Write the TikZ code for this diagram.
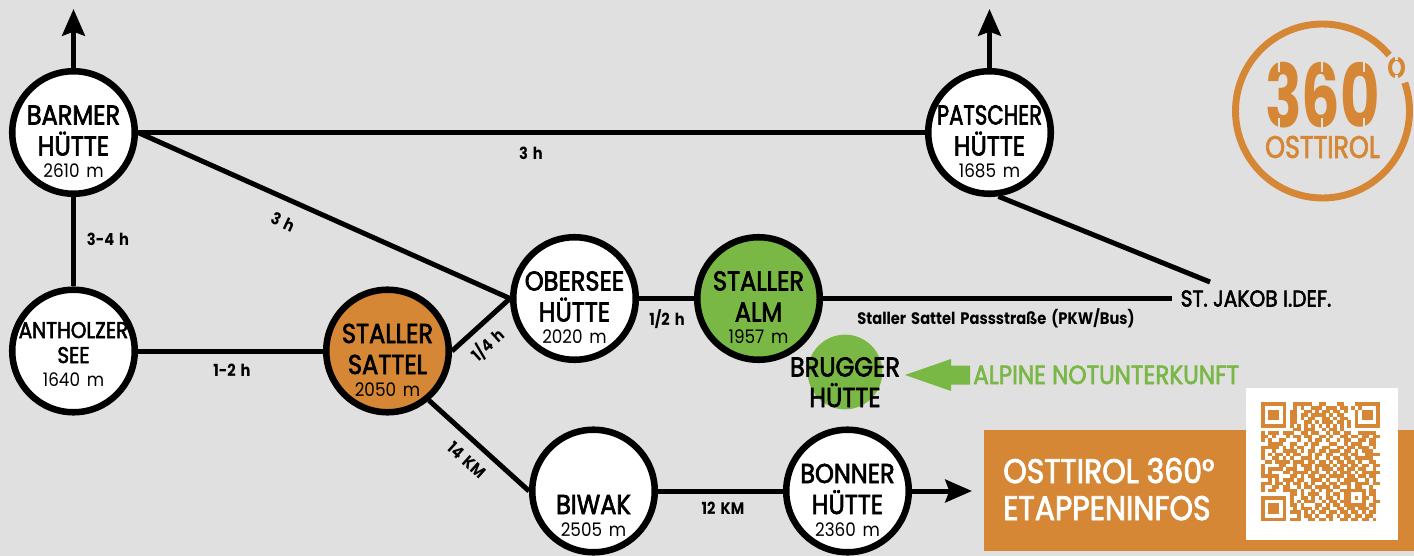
\documentclass[tikz,border=0pt]{standalone}
\usepackage{fontspec}
\usepackage{graphicx}
\usetikzlibrary{arrows.meta}
\newfontfamily\hutFont{Poppins}[FakeStretch=0.88,FakeBold=2.4]
\newfontfamily\legFont{Poppins}[FakeStretch=0.88,WordSpace=1.6]
\newfontfamily\infoFont{Poppins}[FakeStretch=0.9,WordSpace=1.5]
\definecolor{backColor}{RGB}{224,224,224}
\definecolor{logoColor}{RGB}{213,135,53}
\definecolor{almColor}{RGB}{122,184,69}
\tikzstyle{route} = [y = -.75pt, x = .75pt]
\tikzstyle{hutStyle} = [draw=black, circle, line width=4.9pt, minimum size=91.9pt, inner sep=0pt]
\tikzstyle{hutTitle} = [font=\hutFont\fontsize{20.5}{20.5}\selectfont, anchor=base, inner sep=0pt, text=black]
\tikzstyle{hutSmallTitle} = [font=\hutFont\fontsize{17}{17}\selectfont, anchor=base, inner sep=0pt]
\tikzstyle{hutHeight} = [font=\infoFont\fontsize{14}{14}\selectfont, anchor=base, inner sep=0pt]
\tikzstyle{legLine} = [draw=black, line width=3.75pt]
\tikzstyle{legArrow} = [legLine, -{Stealth[length=20pt,width=17pt,inset=3pt]}]
\tikzstyle{legText} = [font=\legFont\bfseries\fontsize{12.5}{12.5}\selectfont, inner sep=0pt]
\tikzstyle{panelText} = [font=\hutFont\fontsize{25.5}{25.5}\selectfont, text=white, anchor=base west, inner sep=0pt]
\tikzstyle{slit} = [draw=backColor, line width=1.6pt]
\newcommand{\hutCircle}[4]{\node [hutStyle, fill=#4] (#1) at (#2, #3) {};}
\newcommand{\hut}[7]{
  \hutCircle{#1}{#2}{#3}{#4}
  \node [hutTitle] (#1First) at (#2, #3 - 8) {#5};
  \node [hutTitle] (#1Second) at (#2, #3 + 23) {#6};
  \node [hutHeight] (#1Height) at (#2, #3 + 45) {#7};
}
\newcount\qrCol
\newcommand{\qrRow}[2]{\qrCol=0 \def\qrY{#1}\qrScan#2;}
\def\qrScan#1{\ifx#1;\else\if#11\fill [logoColor] (1261 + 3.6 * \the\qrCol, 402.3 + 3.6 * \qrY) rectangle +(3.7, 3.7);\fi\advance\qrCol by 1 \expandafter\qrScan\fi}
\begin{document}
\begin{tikzpicture}[route]
  \useasboundingbox [fill=backColor] (0,0) rectangle (1414,556);

  \hut{barmer}{73.5}{132.5}{white}{BARMER}{HÜTTE}{2610 m}
  \hut{patscher}{989.5}{132.5}{white}{\scalebox{.88}[1]{PATSCHER}}{HÜTTE}{1685 m}
  \hut{sattel}{387.5}{351}{logoColor}{STALLER}{SATTEL}{2050 m}
  \hut{obersee}{574.5}{298.5}{white}{OBERSEE}{HÜTTE}{2020 m}
  \hut{alm}{758.5}{298.5}{almColor}{STALLER}{ALM}{1957 m}
  \hut{biwak}{593.5}{491}{white}{}{BIWAK}{2505 m}
  \hut{bonner}{847.5}{491}{white}{BONNER}{HÜTTE}{2360 m}
  \hutCircle{antholzer}{73.5}{351}{white}
  \node [hutSmallTitle] (antholzerFirst) at (73.5, 338) {ANTHOLZER};
  \node [hutSmallTitle] (antholzerSecond) at (73.5, 363) {SEE};
  \node [hutHeight] (antholzerHeight) at (73.5, 386) {1640 m};

  \node [fill=almColor, circle, minimum size=56pt, inner sep=0pt] (brugger) at (845, 372) {};
  \node [hutTitle] (bruggerFirst) at (845, 376.5) {BRUGGER};
  \node [hutTitle] (bruggerSecond) at (845, 407) {HÜTTE};

  \node [font=\hutFont\fontsize{17.2}{17.2}\selectfont, inner sep=6pt] (jakob) at (1256, 298.5) {ST. JAKOB I.DEF.};
  \coordinate (jakobTop) at (1210, 282);
  \coordinate (barmerUp) at (73.5, 9);
  \coordinate (patscherUp) at (989.5, 9);
  \coordinate (bonnerEnd) at (972, 491);

  \draw [legArrow] (barmer.north) -- (barmerUp);
  \draw [legArrow] (patscher.north) -- (patscherUp);
  \draw [legArrow] (bonner.east) -- (bonnerEnd);
  \draw [legLine] (barmer.east) -- (patscher.west);
  \draw [legLine] (barmer.south) -- (antholzer.north);
  \draw [legLine] (barmer.east) -- (obersee.west);
  \draw [legLine] (patscher.-82) -- (jakobTop);
  \draw [legLine] (antholzer.east) -- (sattel.west);
  \draw [legLine] (sattel.east) -- (obersee.west);
  \draw [legLine] (obersee.east) -- (alm.west);
  \draw [legLine] (alm.east) -- (jakob.west);
  \draw [legLine] (sattel.-50) -- (biwak.west);
  \draw [legLine] (biwak.east) -- (bonner.west);

  \node [legText] (legTop) at (531, 153) {3 h};
  \node [legText] (legLeft) at (108, 239) {3-4 h};
  \node [legText, rotate=-25] (legDiagonal) at (283, 222) {3 h};
  \node [legText] (legSattel) at (232, 370) {1-2 h};
  \node [legText, rotate=42] (legObersee) at (488, 345) {1/4 h};
  \node [legText] (legAlm) at (667, 319) {1/2 h};
  \node [legText, rotate=-42] (legBiwak) at (467, 460) {14 KM};
  \node [legText] (legBonner) at (723, 508) {12 KM};
  \node [legText] (legPass) at (996, 318) {Staller Sattel Passstraße (PKW/Bus)};

  \fill [almColor] (905, 375) -- (951, 359) -- (951, 365.5) -- (970, 365.5) -- (970, 384.5) -- (951, 384.5) -- (951, 391) -- cycle;
  \node [font=\hutFont\fontsize{19.7}{19.7}\selectfont, text=almColor, anchor=base west, inner sep=0pt] (notunterkunft) at (973, 384) {ALPINE NOTUNTERKUNFT};

  \fill [logoColor] (984, 430) rectangle (1414, 551);
  \node [panelText] (panelFirst) at (1003, 483) {OSTTIROL 360°};
  \node [panelText] (panelSecond) at (1003, 520) {ETAPPENINFOS};
  \fill [white] (1246, 388) rectangle (1398, 540);

  \qrRow{0}{111111100111110011000110001111111}
  \qrRow{1}{100000100101001110111011010100001}
  \qrRow{2}{101110101100110101101101001011101}
  \qrRow{3}{101110101101101111010110001011101}
  \qrRow{4}{101110101101011001101011001011101}
  \qrRow{5}{100000101100110101110110101000001}
  \qrRow{6}{111111101010101010101010101111111}
  \qrRow{7}{000000000110111001011010000000000}
  \qrRow{8}{101110111001101100101101100111110}
  \qrRow{9}{110100010110110011010011011011011}
  \qrRow{10}{101001100010010110100101100110110}
  \qrRow{11}{001111001100101100011001011100110}
  \qrRow{12}{111110101011001001100110110111010}
  \qrRow{13}{100100111101011011011101101011100}
  \qrRow{14}{101011010110010110110011011001111}
  \qrRow{15}{100110101001110100101101101111100}
  \qrRow{16}{011011110111011011010110110100110}
  \qrRow{17}{100001100101110111101011011011011}
  \qrRow{18}{101111011100110101110110110110010}
  \qrRow{19}{101000110111101100101011101011111}
  \qrRow{20}{111110001101011011011110110110110}
  \qrRow{21}{001010111011001110100101111001010}
  \qrRow{22}{111011010110101001011011101111011}
  \qrRow{23}{100110110010110111101100101100100}
  \qrRow{24}{101100111101001010110011111110110}
  \qrRow{25}{000000001101011100101101100010110}
  \qrRow{26}{111111101001101010110101101011010}
  \qrRow{27}{100000101010111001011011100010011}
  \qrRow{28}{101110101101000110101101111110110}
  \qrRow{29}{101110100101110101100110110111010}
  \qrRow{30}{101110101110101011011011011010110}
  \qrRow{31}{100000100010110100110101101101100}
  \qrRow{32}{111111101110011011010011011011010}

  \draw [logoColor, line width=5.2pt] (1322.5, 111) ++(-40:87) arc [start angle=-40, end angle=-379, radius=87];
  \node [inner sep=0pt, text=logoColor] (logoDigits) at (1322.5, 95.5) {\resizebox{86pt}{49pt}{\legFont\bfseries 360}};
  \node [inner sep=0pt, text=logoColor] (logoName) at (1322.5, 147) {\resizebox{86pt}{16.5pt}{\hutFont OSTTIROL}};
  \draw [logoColor, line width=3pt] (1396.5, 67.5) ellipse [x radius=6.5, y radius=8.75];
  \foreach \slitX in {1279, 1322, 1364} {
    \draw [slit] (\slitX, 61) -- (\slitX, 72);
    \draw [slit] (\slitX, 118) -- (\slitX, 130);
  }
  \foreach \slitY in {55, 75} {
    \draw [slit] (1396.5, \slitY) -- (1396.5, \slitY + 5);
  }
\end{tikzpicture}
\end{document}
